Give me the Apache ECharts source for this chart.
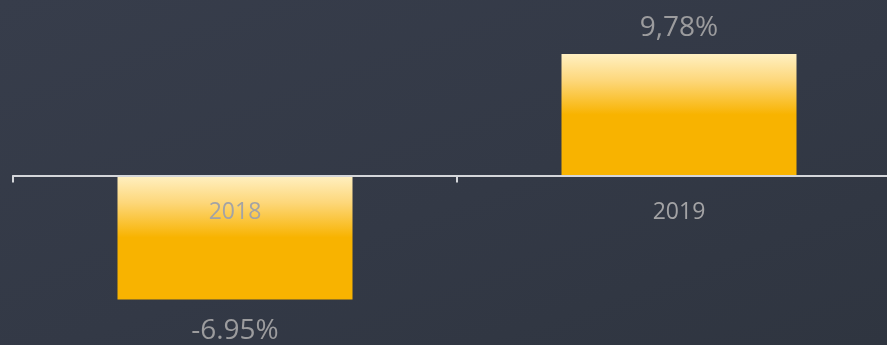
<!DOCTYPE html>
<html>
<head>
<meta charset="utf-8">
<style>
html,body{margin:0;padding:0;width:887px;height:345px;overflow:hidden;}
#c{width:887px;height:345px;background:linear-gradient(160deg,#373d4b 0%,#333946 55%,#2f3540 100%);}
</style>
<script src="https://cdn.jsdelivr.net/npm/echarts@6/dist/echarts.min.js"></script>
</head>
<body>
<div id="c"></div>
<script>
var categories = ['2018', '2019'];
var values2018 = [-6.95, null];
var values2019 = [null, 9.78];
var labelTexts = ['-6.95%', '9,78%'];

var chart = echarts.init(document.getElementById('c'), null, {renderer: 'canvas'});
var barGrad = {
  type: 'linear', x: 0, y: 0, x2: 0, y2: 1,
  colorStops: [
    {offset: 0, color: '#fff0c2'},
    {offset: 0.22, color: '#fdd77a'},
    {offset: 0.5, color: '#f8b300'},
    {offset: 1, color: '#f8b300'}
  ]
};
var font = '"Open Sans", "Noto Sans", sans-serif';
chart.setOption({
  backgroundColor: 'transparent',
  animation: false,
  grid: {left: 13, top: 40, width: 888, height: 271, containLabel: false, outerBoundsMode: 'none'},
  xAxis: {
    type: 'category',
    data: categories,
    boundaryGap: true,
    axisLine: {show: true, onZero: true, lineStyle: {color: '#d4d6da', width: 2}},
    axisTick: {show: true, length: 7, alignWithLabel: false, lineStyle: {color: '#d4d6da', width: 2}},
    axisLabel: {color: '#a3a3a5', fontFamily: font, fontSize: 23, margin: -110, hideOverlap: false},
    z: 10
  },
  yAxis: [
    {type: 'value', min: -10.9, max: 10.9, show: false, splitLine: {show: false}},
    {type: 'value', min: -7.6, max: 7.6, show: false, splitLine: {show: false}}
  ],
  series: [
    {
      name: '2018', type: 'bar', yAxisIndex: 1, data: values2018,
      barWidth: 235, barGap: '-100%',
      itemStyle: {color: barGrad},
      label: {show: true, position: 'bottom', distance: 18,
        formatter: function () { return labelTexts[0]; },
        color: '#9c9c9e', fontFamily: font, fontSize: 28}
    },
    {
      name: '2019', type: 'bar', yAxisIndex: 0, data: values2019,
      barWidth: 235, barGap: '-100%',
      itemStyle: {color: barGrad},
      label: {show: true, position: 'top', distance: 12,
        formatter: function () { return labelTexts[1]; },
        color: '#9c9c9e', fontFamily: font, fontSize: 28}
    }
  ]
});
</script>
</body>
</html>
